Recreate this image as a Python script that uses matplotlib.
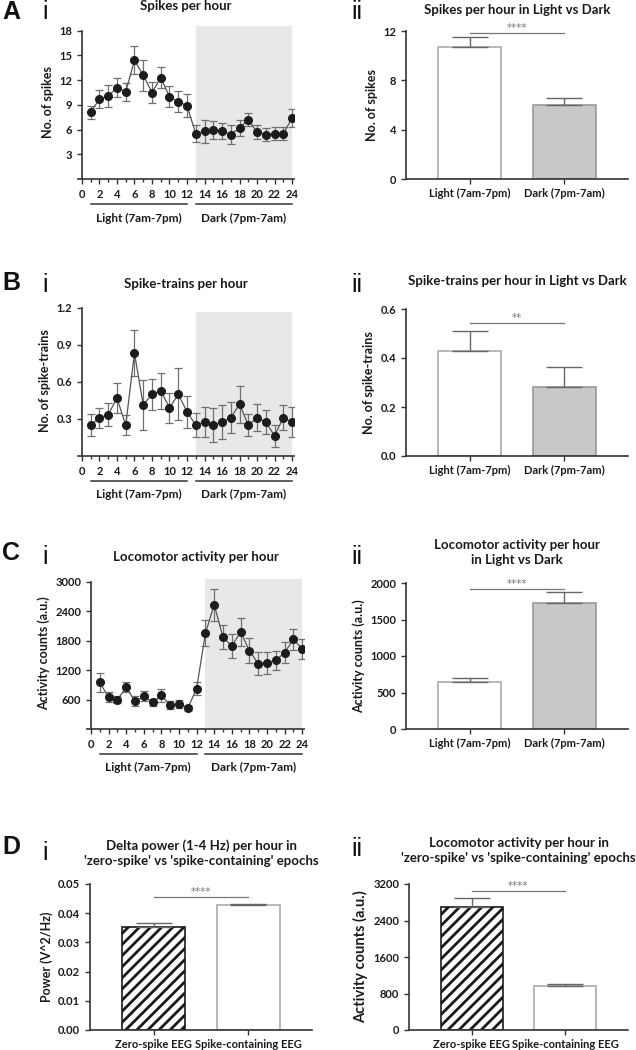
import matplotlib
matplotlib.use("Agg")
import matplotlib.pyplot as plt
import matplotlib.transforms as mtransforms
import numpy as np

plt.rcParams['font.family'] = ['Lato', 'DejaVu Sans']
plt.rcParams['hatch.linewidth'] = 2.0

# ---- data ----
hours = list(range(1, 25))

spikes_mean = [8.1, 9.7, 10.1, 11.1, 10.6, 14.4, 12.6, 10.5, 12.3, 10.0, 9.4, 8.9,
               5.5, 5.8, 6.0, 5.8, 5.4, 6.2, 7.2, 5.7, 5.4, 5.5, 5.5, 7.4]
spikes_err = [0.8, 1.1, 1.3, 1.2, 1.1, 1.7, 1.9, 1.3, 1.3, 1.3, 1.3, 1.4,
              1.0, 1.4, 1.1, 1.0, 1.2, 1.0, 0.8, 0.8, 0.8, 0.8, 0.8, 1.1]

trains_mean = [0.25, 0.31, 0.335, 0.47, 0.25, 0.835, 0.415, 0.50, 0.53, 0.39, 0.50, 0.36,
               0.25, 0.275, 0.25, 0.275, 0.31, 0.42, 0.25, 0.31, 0.275, 0.165, 0.31, 0.275]
trains_err = [0.09, 0.08, 0.095, 0.12, 0.08, 0.185, 0.205, 0.125, 0.145, 0.12, 0.21, 0.13,
              0.10, 0.125, 0.14, 0.135, 0.125, 0.15, 0.09, 0.11, 0.095, 0.09, 0.10, 0.125]

loco_mean = [950, 646, 598, 850, 564, 666, 544, 687, 483, 510, 428, 823,
             1951, 2536, 1870, 1693, 1978, 1598, 1333, 1346, 1400, 1557, 1829, 1632]
loco_err = [190, 100, 70, 100, 100, 100, 68, 130, 80, 88, 55, 130,
            265, 326, 245, 245, 286, 258, 237, 224, 198, 211, 211, 204]

ld_labels = ["Light (7am-7pm)", "Dark (7pm-7am)"]
spikes_ld = [10.7, 6.0]
spikes_ld_err = [0.8, 0.6]
trains_ld = [0.43, 0.28]
trains_ld_err = [0.08, 0.085]
loco_ld = [640, 1720]
loco_ld_err = [60, 155]

eeg_labels = ["Zero-spike EEG", "Spike-containing EEG"]
delta_power = [0.0353, 0.0428]
delta_power_err = [0.0012, 0.0003]
loco_eeg = [2700, 960]
loco_eeg_err = [200, 40]

W, H = 636, 1050
fig = plt.figure(figsize=(W / 100, H / 100), dpi=100)

TXT = '#1a1a1a'
SPINE = '#333333'
TW = 'bold'
TITLE_FS = 9.5


def add_axes_px(x0, x1, y_top, y_bot):
    return fig.add_axes([x0 / W, 1 - y_bot / H, (x1 - x0) / W, (y_bot - y_top) / H])


def style_axes(ax):
    for s in ['top', 'right']:
        ax.spines[s].set_visible(False)
    for s in ['left', 'bottom']:
        ax.spines[s].set_color(SPINE)
        ax.spines[s].set_linewidth(1.2)
    ax.tick_params(colors=SPINE, labelcolor=TXT, labelsize=8, width=1.0, length=3.5)
    for lab in ax.get_xticklabels() + ax.get_yticklabels():
        lab.set_fontweight(TW)


def line_panel(ax, mean, err, ymax, yticks, shade_top, ylabel, title, pad):
    ax.set_xlim(-0.45, 24.2)
    ax.set_ylim(0, ymax)
    ax.axvspan(13, 24, ymin=0, ymax=shade_top / ymax, color='#e8e8e8', lw=0, zorder=0)
    ax.errorbar(hours, mean, yerr=err, fmt='-o', color='#555555', lw=0.9,
                mfc='#1c1c1c', mec='#1c1c1c', ms=5.5, ecolor='#707070',
                elinewidth=0.9, capsize=2.6, capthick=0.9, zorder=3)
    ax.spines['left'].set_position(('data', 0))
    ax.spines['left'].set_bounds(0, yticks[-1])
    ax.set_yticks(yticks)
    ax.set_xticks(range(0, 25, 2))
    ax.set_xticks(range(0, 25), minor=True)
    ax.tick_params(axis='x', which='minor', length=2.5, width=1.0, colors=SPINE)
    style_axes(ax)
    ax.set_ylabel(ylabel, fontsize=9, fontweight=TW, color=TXT, labelpad=4)
    ax.set_title(title, fontsize=TITLE_FS, fontweight=TW, color=TXT, pad=pad)
    # light / dark bars under the axis
    tr = mtransforms.blended_transform_factory(ax.transData, ax.transAxes)
    for (a, b), lab in zip([(1, 12), (13, 24)], ld_labels):
        ax.plot([a, b], [-0.165, -0.165], color='#333333', lw=1.1,
                transform=tr, clip_on=False)
        ax.text((a + b) / 2, -0.22, lab, transform=tr, ha='center', va='top',
                fontsize=8.5, fontweight=TW, color=TXT)


def bar_panel(ax, labels, vals, errs, ymax, yticks, ylabel, title, sig_y, stars,
              colors, edges, pad, hatches=None, ylabel_size=9):
    x = np.arange(len(vals))
    if hatches is None:
        hatches = [None] * len(vals)
    for xi, v, e, c, ec, h in zip(x, vals, errs, colors, edges, hatches):
        ax.bar(xi, v, width=0.66, color=c, edgecolor=ec, lw=1.2, hatch=h, zorder=2)
        ax.errorbar(xi, v, yerr=[[0], [e]], fmt='none', ecolor='#666666',
                    elinewidth=1.0, capsize=13, capthick=1.0, zorder=3)
    ax.set_xlim(-0.67, 1.67)
    ax.set_ylim(0, ymax)
    ax.spines['left'].set_bounds(0, yticks[-1])
    ax.set_yticks(yticks)
    ax.set_xticks(x)
    ax.set_xticklabels(labels)
    style_axes(ax)
    ax.tick_params(axis='x', labelsize=8, pad=3)
    ax.set_ylabel(ylabel, fontsize=ylabel_size, fontweight=TW, color=TXT, labelpad=4)
    ax.set_title(title, fontsize=TITLE_FS, fontweight=TW, color=TXT, pad=pad,
                 linespacing=1.3)
    ax.plot([0, 1], [sig_y, sig_y], color='#777777', lw=0.9, clip_on=False)
    ax.text(0.5, sig_y, stars, ha='center', va='bottom', fontsize=7.5,
            family='DejaVu Sans', color='#777777', clip_on=False)


def fmt_ticks(ax, labels):
    ax.set_yticklabels(labels)
    for lab in ax.get_yticklabels():
        lab.set_fontweight(TW)


LD_COLORS = ['white', '#c8c8c8']
LD_EDGES = ['#aaaaaa', '#999999']

# ---- A ----
ax = add_axes_px(78, 293.8, 25, 179)
line_panel(ax, spikes_mean, spikes_err, 18.7, [3, 6, 9, 12, 15, 18], 18.6,
           "No. of spikes", "Spikes per hour", 11)
ax = add_axes_px(406, 628, 31, 179)
bar_panel(ax, ld_labels, spikes_ld, spikes_ld_err, 12, [0, 4, 8, 12],
          "No. of spikes", "Spikes per hour in Light vs Dark", 11.8, "****",
          LD_COLORS, LD_EDGES, 12.5)

# ---- B ----
ax = add_axes_px(78, 293.8, 305.5, 456)
line_panel(ax, trains_mean, trains_err, 1.22, [0.3, 0.6, 0.9, 1.2], 1.17,
           "No. of spike-trains", "Spike-trains per hour", 12.5)
fmt_ticks(ax, ["0.3", "0.6", "0.9", "1.2"])
ax = add_axes_px(406, 628, 309, 456)
bar_panel(ax, ld_labels, trains_ld, trains_ld_err, 0.6, [0.0, 0.2, 0.4, 0.6],
          "No. of spike-trains", "Spike-trains per hour in Light vs Dark", 0.543, "**",
          LD_COLORS, LD_EDGES, 17.5)
fmt_ticks(ax, ["0.0", "0.2", "0.4", "0.6"])

# ---- C ----
ax = add_axes_px(87, 304, 578, 729)
line_panel(ax, loco_mean, loco_err, 3080, [600, 1200, 1800, 2400, 3000], 3065,
           "Activity counts (a.u.)", "Locomotor activity per hour", 12.5)
ax = add_axes_px(406, 628, 583, 729)
bar_panel(ax, ld_labels, loco_ld, loco_ld_err, 2000, [0, 500, 1000, 1500, 2000],
          "Activity counts (a.u.)", "Locomotor activity per hour\nin Light vs Dark",
          1920, "****", LD_COLORS, LD_EDGES, 14)

# ---- D ----
ax = add_axes_px(90, 312, 884, 1030)
bar_panel(ax, eeg_labels, delta_power, delta_power_err, 0.05,
          [0.00, 0.01, 0.02, 0.03, 0.04, 0.05], "Power (V^2/Hz)",
          "Delta power (1-4 Hz) per hour in\n'zero-spike' vs 'spike-containing' epochs",
          0.0456, "****", ['white', 'white'], ['#1a1a1a', '#aaaaaa'], 13.5,
          hatches=['///', None])
fmt_ticks(ax, ["0.00", "0.01", "0.02", "0.03", "0.04", "0.05"])
ax = add_axes_px(409, 628, 884, 1030)
bar_panel(ax, eeg_labels, loco_eeg, loco_eeg_err, 3200, [0, 800, 1600, 2400, 3200],
          "Activity counts (a.u.)",
          "Locomotor activity per hour in\n'zero-spike' vs 'spike-containing' epochs",
          3050, "****", ['white', 'white'], ['#1a1a1a', '#aaaaaa'], 16,
          hatches=['///', None], ylabel_size=10.5)

# ---- panel letters ----
for letter, y in zip("ABCD", [12, 283, 553, 847]):
    fig.text(2 / W, 1 - y / H, letter, fontsize=18, fontweight='bold',
             family='Liberation Sans', va='center', ha='left', color='#111111')
for y in [12, 285, 557, 853]:
    fig.text(45 / W, 1 - y / H, "i", fontsize=18, family='Liberation Sans',
             va='center', ha='center', color='#111111')
for y in [12, 285, 557, 849]:
    fig.text(357 / W, 1 - y / H, "ii", fontsize=18, family='Liberation Sans',
             va='center', ha='center', color='#111111')

fig.savefig("out.png", dpi=100)
